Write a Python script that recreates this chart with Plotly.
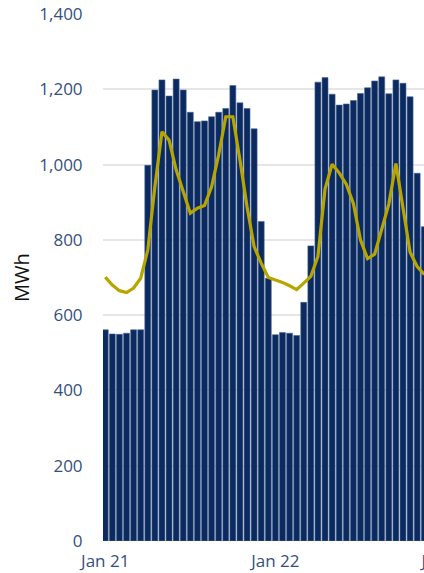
import pandas as pd
import plotly.graph_objects as go

start = "2024-01-21 00:00"
energy_mwh = [561, 550, 549, 552, 561, 561, 998, 1198, 1225, 1182, 1227, 1198,
              1139, 1114, 1116, 1127, 1139, 1149, 1210, 1164, 1149, 1095, 849, 698,
              548, 554, 552, 546, 634, 784, 1219, 1231, 1187, 1158, 1161, 1170,
              1189, 1204, 1222, 1233, 1188, 1225, 1216, 1180, 977, 835]
line_mwh = [701, 680, 665, 660, 672, 698, 773, 941, 1087, 1065, 986, 928,
            871, 884, 891, 941, 1026, 1127, 1127, 1012, 888, 782, 738, 700,
            694, 687, 678, 668, 685, 703, 756, 935, 1001, 978, 948, 897,
            800, 750, 762, 826, 895, 1003, 890, 767, 729, 708]
y_ticks = [0, 200, 400, 600, 800, 1000, 1200, 1400]

times = pd.date_range(start, periods=len(energy_mwh), freq="h")

fig = go.Figure()
fig.add_trace(go.Bar(x=times, y=energy_mwh,
                     marker=dict(color="#0B2A5F", line=dict(width=0.6, color="#4A6594")),
                     showlegend=False))
fig.add_trace(go.Scatter(x=times, y=line_mwh, mode="lines",
                         line=dict(color="#B8A600", width=3.2), showlegend=False))

tick_font = dict(family="Open Sans, Noto Sans, sans-serif", size=17, color="#34507F")
fig.update_layout(
    width=470, height=573,
    margin=dict(l=103, r=0, t=14, b=32),
    paper_bgcolor="white", plot_bgcolor="white",
    bargap=0.16,
    xaxis=dict(range=["2024-01-20 23:41", "2024-01-23 03:27"], dtick=86400000,
               tick0="2024-01-21", tickformat="%b %-d", showgrid=False, zeroline=False,
               showline=False, ticks="outside", ticklen=5, tickcolor="rgba(0,0,0,0)",
               tickfont=tick_font, ticklabeloverflow="allow"),
    yaxis=dict(range=[0, 1400], tickvals=y_ticks, tickformat=",d",
               showgrid=True, gridcolor="#E6E6E6", gridwidth=1.5, zeroline=False,
               showline=False, ticks="outside", ticklen=16, tickcolor="rgba(0,0,0,0)",
               tickfont=tick_font, ticklabeloverflow="allow",
               title=dict(text="MWh", font=dict(family="Open Sans, Noto Sans, sans-serif",
                                                 size=20, color="#111111"), standoff=4)),
)
fig.write_html("out.html", config={"displayModeBar": False},
               post_script="document.body.style.margin='0';document.body.style.overflow='hidden';")
